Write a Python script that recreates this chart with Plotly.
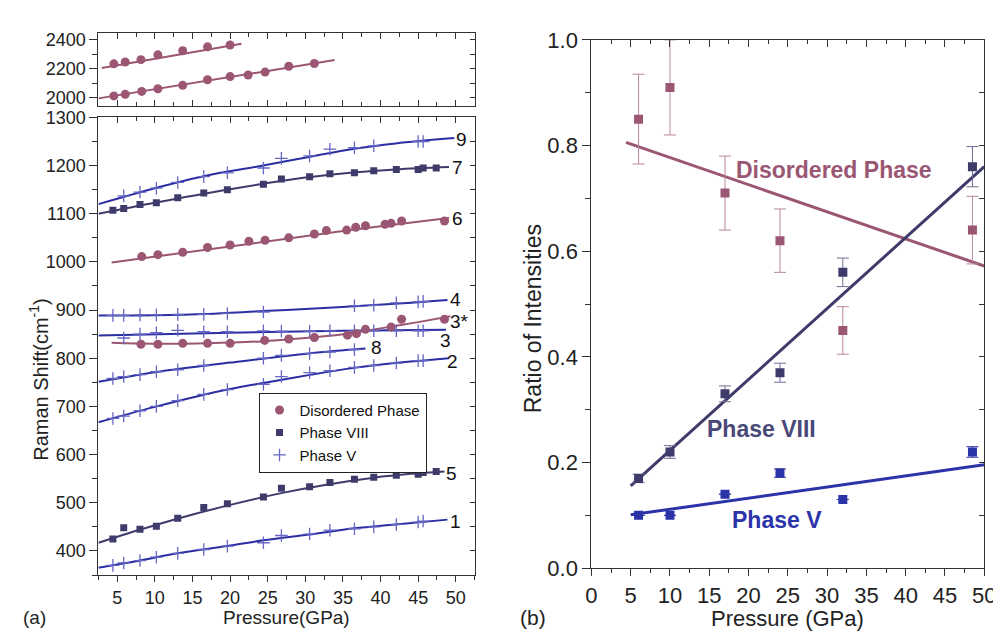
import plotly.graph_objects as go

FONT = "Liberation Sans, Arial, sans-serif"
MAUVE = "#9a5673"
MAUVE_ERR = "#b9869c"
SLATE = "#3e3b6b"
SLATE_ERR = "#6f6c95"
BLUE_LINE = "#2a2ea3"
BLUE_PLUS = "#6667c4"
R_BLUE = "#2b33a8"
AX = "#333333"

# ---------------- (a) upper panel: disordered phase high-frequency modes ----------------
hi_P = [4.55, 6.06, 8.15, 10.4, 13.7, 17.0, 20.0]
hi_v = [2234, 2247, 2263, 2296, 2324, 2351, 2364]
hi_fit_P = [2.95, 21.5]
hi_fit_v = [2205, 2373]

lo_P = [4.55, 6.06, 8.25, 10.4, 13.7, 17.0, 20.0, 22.4, 24.65, 27.8, 31.2]
lo_v = [2013, 2024, 2044, 2062, 2086, 2124, 2146, 2157, 2177, 2217, 2236]
lo_fit_P = [2.5, 33.9]
lo_fit_v = [1996, 2260]

# ---------------- (a) main panel ----------------
# mode 9 (Phase V)
m9_P = [5.86, 8.02, 10.2, 13.04, 16.5, 19.64, 24.43, 26.82, 30.57, 33.27, 36.53, 39.1, 45.0, 45.67]
m9_v = [1137, 1145, 1153, 1165, 1177, 1185, 1195, 1215, 1220, 1234, 1237, 1241, 1250, 1250]
f9_P = [2.5, 10, 16.5, 24.4, 30.5, 36.5, 42, 49.8]
f9_v = [1120, 1153, 1178, 1200, 1218, 1235, 1246, 1257]

# mode 7 (Phase VIII)
m7_P = [4.42, 5.86, 8.02, 10.2, 13.04, 16.5, 19.64, 24.43, 26.82, 30.57, 33.27, 36.53, 39.1, 42.1, 45.0, 45.67, 47.4]
m7_v = [1107, 1111, 1119, 1123, 1133, 1143, 1150, 1161, 1172, 1177, 1183, 1185, 1189, 1192, 1192, 1195, 1195]
f7_P = [2.5, 10, 20, 30, 36, 42, 49.1]
f7_v = [1100, 1123, 1151, 1175, 1185, 1192, 1197]

# mode 6 (Disordered)
m6_P = [8.25, 10.4, 13.7, 17.0, 20.0, 22.5, 24.65, 27.8, 31.2, 32.8, 35.5, 36.7, 38.0, 40.6, 41.4, 42.8, 48.5]
m6_v = [1011, 1015, 1020, 1030, 1035, 1043, 1045, 1050, 1058, 1065, 1066, 1072, 1075, 1078, 1080, 1085, 1085]
f6_P = [4.25, 20, 35, 49.1]
f6_v = [999, 1032, 1064, 1091]

# mode 4 (Phase V)
m4_P = [4.42, 5.86, 8.02, 10.2, 13.04, 16.5, 19.64, 24.43, 36.53, 39.1, 42.1, 45.0, 45.67]
m4_v = [889, 889, 890, 890, 891, 891, 893, 896, 909, 910, 915, 917, 918]
f4_P = [2.5, 10, 17, 24.4, 30, 36.5, 43, 48.9]
f4_v = [889, 889.5, 892, 898, 902, 908, 914, 921]

# mode 3 (Phase V)
m3_P = [5.86, 8.02, 10.2, 13.04, 16.5, 19.64, 24.43, 26.82, 30.57, 33.27, 36.53, 39.1, 42.1, 45.0, 45.67]
m3_v = [842, 850, 853, 858, 855, 855, 857, 856, 856, 857, 857, 857, 857, 857, 857]
f3_P = [2.5, 20, 35, 48.7]
f3_v = [847, 853, 857, 859]

# mode 3* (Disordered)
m3s_P = [8.15, 10.4, 13.7, 17.0, 20.0, 24.6, 27.8, 31.2, 35.6, 36.8, 38.0, 41.4, 42.8, 48.5]
m3s_v = [829, 829, 831, 831, 831, 837, 840, 843, 848, 851, 860, 865, 881, 881]
f3s_P = [4.25, 10, 17, 24, 30, 35, 40, 45, 49.3]
f3s_v = [832, 830, 831, 835, 842, 850, 862, 875, 887]

# mode 8 (Phase V)
m8_P = [4.42, 5.86, 8.02, 10.2, 13.04, 16.5, 24.43, 26.82, 30.57, 33.27, 36.53]
m8_v = [758, 762, 766, 772, 776, 785, 800, 806, 810, 813, 818]
f8_P = [2.5, 10, 20, 30.5, 38]
f8_v = [751, 771, 791, 810, 820]

# mode 2 (Phase V)
m2_P = [4.42, 5.86, 8.02, 10.2, 13.04, 16.5, 19.64, 24.43, 26.82, 30.57, 33.27, 36.53, 39.1, 42.1, 45.0, 45.67]
m2_v = [675, 680, 691, 700, 712, 725, 735, 746, 762, 770, 774, 781, 785, 790, 795, 795]
f2_P = [2.5, 10, 20, 25, 30.8, 36.5, 42, 49.1]
f2_v = [667, 699, 736, 750, 766, 780, 790, 800]

# mode 5 (Phase VIII)
m5_P = [4.42, 5.86, 8.02, 10.2, 13.04, 16.5, 19.64, 24.43, 26.82, 30.57, 33.27, 36.53, 39.1, 42.1, 45.0, 45.67, 47.4]
m5_v = [425, 448, 445, 451, 468, 490, 498, 512, 530, 533, 542, 549, 553, 557, 559, 563, 565]
f5_P = [2.5, 8, 13, 19.6, 26.8, 33, 39.1, 44, 48.5]
f5_v = [417, 444, 467, 494, 520, 538, 552, 560, 565]

# mode 1 (Phase V)
m1_P = [4.42, 5.86, 8.02, 10.2, 13.04, 16.5, 19.64, 24.43, 26.82, 30.57, 33.27, 36.53, 39.1, 42.1, 45.0, 45.67]
m1_v = [370, 375, 380, 387, 395, 403, 410, 417, 432, 435, 443, 446, 450, 455, 460, 462]
f1_P = [2.5, 8, 13, 19.6, 24.4, 30.5, 36.5, 42, 48.9]
f1_v = [365, 380, 395, 410, 422, 434, 447, 455, 465]

mode_labels = ["9", "7", "6", "4", "3*", "3", "8", "2", "5", "1"]
mode_label_P = [50.7, 50.2, 50.2, 50.0, 50.5, 48.7, 39.4, 49.6, 49.4, 49.9]
mode_label_v = [1255, 1197, 1090, 923, 877, 837, 823, 793, 561, 462]

# ---------------- (b) ratio of intensities ----------------
r_P = [6, 10, 17, 24, 32, 48.5]
dis_ratio = [0.85, 0.91, 0.71, 0.62, 0.45, 0.64]
dis_err = [0.085, 0.09, 0.07, 0.06, 0.045, 0.064]
viii_ratio = [0.17, 0.22, 0.33, 0.37, 0.56, 0.76]
viii_err = [0.008, 0.012, 0.015, 0.018, 0.027, 0.038]
v_ratio = [0.10, 0.10, 0.14, 0.18, 0.13, 0.22]
v_err = [0.0, 0.0, 0.0, 0.008, 0.0, 0.01]

dis_line_P = [4.4, 50]
dis_line_r = [0.806, 0.572]
viii_line_P = [5.0, 50]
viii_line_r = [0.156, 0.760]
v_line_P = [5.0, 50]
v_line_r = [0.101, 0.196]

fig = go.Figure()

STYLE = {
    "dis": dict(symbol="circle", size=9, color=MAUVE),
    "viii": dict(symbol="square", size=7, color=SLATE),
    "v": dict(symbol="cross-thin", size=9, color=BLUE_PLUS, line=dict(color=BLUE_PLUS, width=1.3)),
}
LINECOL = {"dis": MAUVE, "viii": SLATE, "v": BLUE_LINE}
NAMES = {"dis": "Disordered Phase", "viii": "Phase VIII", "v": "Phase V"}
RANK = {"dis": 1, "viii": 2, "v": 3}
shown = set()


def add_fit(P, v, kind, xa, ya):
    fig.add_trace(go.Scatter(x=P, y=v, mode="lines", line=dict(color=LINECOL[kind], width=2, shape="spline"),
                             xaxis=xa, yaxis=ya, showlegend=False, hoverinfo="skip"))


def add_pts(P, v, kind, xa, ya):
    show = kind not in shown
    shown.add(kind)
    fig.add_trace(go.Scatter(x=P, y=v, mode="markers", marker=STYLE[kind], name=NAMES[kind],
                             legendgroup=kind, legendrank=RANK[kind], showlegend=show,
                             xaxis=xa, yaxis=ya))


# upper panel
add_fit(hi_fit_P, hi_fit_v, "dis", "x", "y")
add_fit(lo_fit_P, lo_fit_v, "dis", "x", "y")
add_pts(hi_P, hi_v, "dis", "x", "y")
add_pts(lo_P, lo_v, "dis", "x", "y")

# main panel
series = [
    (f9_P, f9_v, m9_P, m9_v, "v"),
    (f7_P, f7_v, m7_P, m7_v, "viii"),
    (f6_P, f6_v, m6_P, m6_v, "dis"),
    (f4_P, f4_v, m4_P, m4_v, "v"),
    (f3_P, f3_v, m3_P, m3_v, "v"),
    (f3s_P, f3s_v, m3s_P, m3s_v, "dis"),
    (f8_P, f8_v, m8_P, m8_v, "v"),
    (f2_P, f2_v, m2_P, m2_v, "v"),
    (f5_P, f5_v, m5_P, m5_v, "viii"),
    (f1_P, f1_v, m1_P, m1_v, "v"),
]
for fP, fv, mP, mv, kind in series:
    add_fit(fP, fv, kind, "x2", "y2")
for fP, fv, mP, mv, kind in series:
    add_pts(mP, mv, kind, "x2", "y2")

# right panel
for lp, lr, col in [(dis_line_P, dis_line_r, MAUVE), (viii_line_P, viii_line_r, SLATE), (v_line_P, v_line_r, R_BLUE)]:
    fig.add_trace(go.Scatter(x=lp, y=lr, mode="lines", line=dict(color=col, width=3),
                             xaxis="x3", yaxis="y3", showlegend=False, hoverinfo="skip"))
for vals, errs, col, ecol in [(dis_ratio, dis_err, MAUVE, MAUVE_ERR), (viii_ratio, viii_err, SLATE, SLATE_ERR),
                              (v_ratio, v_err, R_BLUE, R_BLUE)]:
    fig.add_trace(go.Scatter(x=r_P, y=vals, mode="markers",
                             marker=dict(symbol="square", size=9, color=col),
                             error_y=dict(type="data", array=errs, color=ecol, thickness=1, width=6),
                             xaxis="x3", yaxis="y3", showlegend=False))

# dummy traces so mirror (overlay) axes are drawn
for xa, ya in [("x4", "y"), ("x", "y4"), ("x5", "y2"), ("x2", "y5"), ("x6", "y3"), ("x3", "y6")]:
    fig.add_trace(go.Scatter(x=[None], y=[None], xaxis=xa, yaxis=ya, showlegend=False, hoverinfo="skip"))

W, H = 1001, 634
LX = [86 / W, 469 / W]
RX = [588 / W, 988 / W]
TOPY = [1 - 89.3 / H, 1 - 13.3 / H]
MAINY = [1 - 577.8 / H, 1 - 101.4 / H]
RY = [1 - 570.7 / H, 1 - 20.7 / H]

base = dict(showgrid=False, zeroline=False, showline=True, linecolor=AX, linewidth=1.3,
            tickcolor=AX, tickwidth=1.2, tickmode="linear", mirror=True)
over = dict(showgrid=False, zeroline=False, showline=False, tickcolor=AX, tickwidth=1.2,
            tickmode="linear", showticklabels=False, ticks="inside")

tf_l = dict(family=FONT, size=18, color="#222")
tf_r = dict(family=FONT, size=22, color="#222")

fig.update_layout(
    width=W, height=H, autosize=False,
    margin=dict(l=0, r=0, t=0, b=0),
    paper_bgcolor="white", plot_bgcolor="white",
    font=dict(family=FONT, color="#222"),
    xaxis=dict(**base, domain=LX, range=[2.5, 52.5], anchor="y", ticks="inside", ticklen=6,
               tick0=0, dtick=5, showticklabels=False,
               minor=dict(ticks="inside", ticklen=4, tick0=0, dtick=2.5, tickcolor=AX)),
    xaxis4=dict(**over, overlaying="x", side="top", anchor="y", range=[2.5, 52.5], ticklen=6,
                tick0=0, dtick=5, minor=dict(ticks="inside", ticklen=4, tick0=0, dtick=2.5, tickcolor=AX)),
    yaxis=dict(**base, domain=TOPY, range=[1945, 2448], anchor="x", ticks="outside", ticklen=8,
               tick0=0, dtick=200, tickfont=tf_l,
               minor=dict(ticks="outside", ticklen=5, tick0=0, dtick=100, tickcolor=AX)),
    yaxis4=dict(**over, overlaying="y", side="right", anchor="x", range=[1945, 2448], ticklen=5,
                tick0=0, dtick=100),
    xaxis2=dict(**base, domain=LX, range=[2.5, 52.5], anchor="y2", ticks="outside", ticklen=6,
                tick0=0, dtick=5, tickfont=tf_l,
                minor=dict(ticks="outside", ticklen=4, tick0=0, dtick=2.5, tickcolor=AX)),
    xaxis5=dict(**over, overlaying="x2", side="top", anchor="y2", range=[2.5, 52.5], ticklen=6,
                tick0=0, dtick=5, minor=dict(ticks="inside", ticklen=4, tick0=0, dtick=2.5, tickcolor=AX)),
    yaxis2=dict(**base, domain=MAINY, range=[350, 1300], anchor="x2", ticks="outside", ticklen=8,
                tick0=0, dtick=100, tickfont=tf_l,
                minor=dict(ticks="outside", ticklen=5, tick0=0, dtick=50, tickcolor=AX)),
    yaxis5=dict(**over, overlaying="y2", side="right", anchor="x2", range=[350, 1300], ticklen=5,
                tick0=0, dtick=50),
    xaxis3=dict(**base, domain=RX, range=[0, 50], anchor="y3", ticks="outside", ticklen=7,
                tick0=0, dtick=5, tickfont=tf_r,
                minor=dict(ticks="outside", ticklen=4, tick0=0, dtick=2.5, tickcolor=AX)),
    xaxis6=dict(**over, overlaying="x3", side="top", anchor="y3", range=[0, 50], ticklen=7,
                tick0=0, dtick=5, minor=dict(ticks="inside", ticklen=4, tick0=0, dtick=2.5, tickcolor=AX)),
    yaxis3=dict(**base, domain=RY, range=[0, 1], anchor="x3", ticks="outside", ticklen=8,
                tick0=0, dtick=0.2, tickformat=".1f", tickfont=tf_r,
                minor=dict(ticks="outside", ticklen=5, tick0=0, dtick=0.1, tickcolor=AX)),
    yaxis6=dict(**over, overlaying="y3", side="right", anchor="x3", range=[0, 1], ticklen=5,
                tick0=0, dtick=0.1),
    legend=dict(x=249 / W, y=1 - 388 / H, xanchor="left", yanchor="top",
                bgcolor="white", bordercolor="#222", borderwidth=1,
                font=dict(family=FONT, size=15, color="#111"), itemwidth=30, tracegroupgap=0),
    showlegend=True,
)

ann = []
for lab, p, v in zip(mode_labels, mode_label_P, mode_label_v):
    ann.append(dict(x=p, y=v, xref="x2", yref="y2", text=lab, showarrow=False,
                    font=dict(family=FONT, size=19, color="#111"), xanchor="center", yanchor="middle"))


def pann(px, py, text, size, angle=0):
    return dict(x=px / W, y=1 - py / H, xref="paper", yref="paper", text=text, textangle=angle,
                showarrow=False, xanchor="center", yanchor="middle",
                font=dict(family=FONT, size=size, color="#222"))


ann += [
    pann(25, 374, "Raman Shift(cm<sup>-1</sup>)", 20, -90),
    pann(277, 622, "Pressure(GPa)", 19),
    pann(21, 622, "(a)", 19),
    pann(528, 622, "(b)", 21),
    pann(788, 623, "Pressure (GPa)", 22),
    pann(528, 311, "Ratio of Intensities", 23, -90),
    dict(x=30.9, y=0.7545, xref="x3", yref="y3", text="<b>Disordered Phase</b>", showarrow=False,
         xanchor="center", yanchor="middle", font=dict(family=FONT, size=23, color=MAUVE)),
    dict(x=21.7, y=0.2636, xref="x3", yref="y3", text="<b>Phase VIII</b>", showarrow=False,
         xanchor="center", yanchor="middle", font=dict(family=FONT, size=23, color="#4a4879")),
    dict(x=23.6, y=0.092, xref="x3", yref="y3", text="<b>Phase V</b>", showarrow=False,
         xanchor="center", yanchor="middle", font=dict(family=FONT, size=23, color=R_BLUE)),
]
fig.update_layout(annotations=ann)

fig.write_html("out.html")
